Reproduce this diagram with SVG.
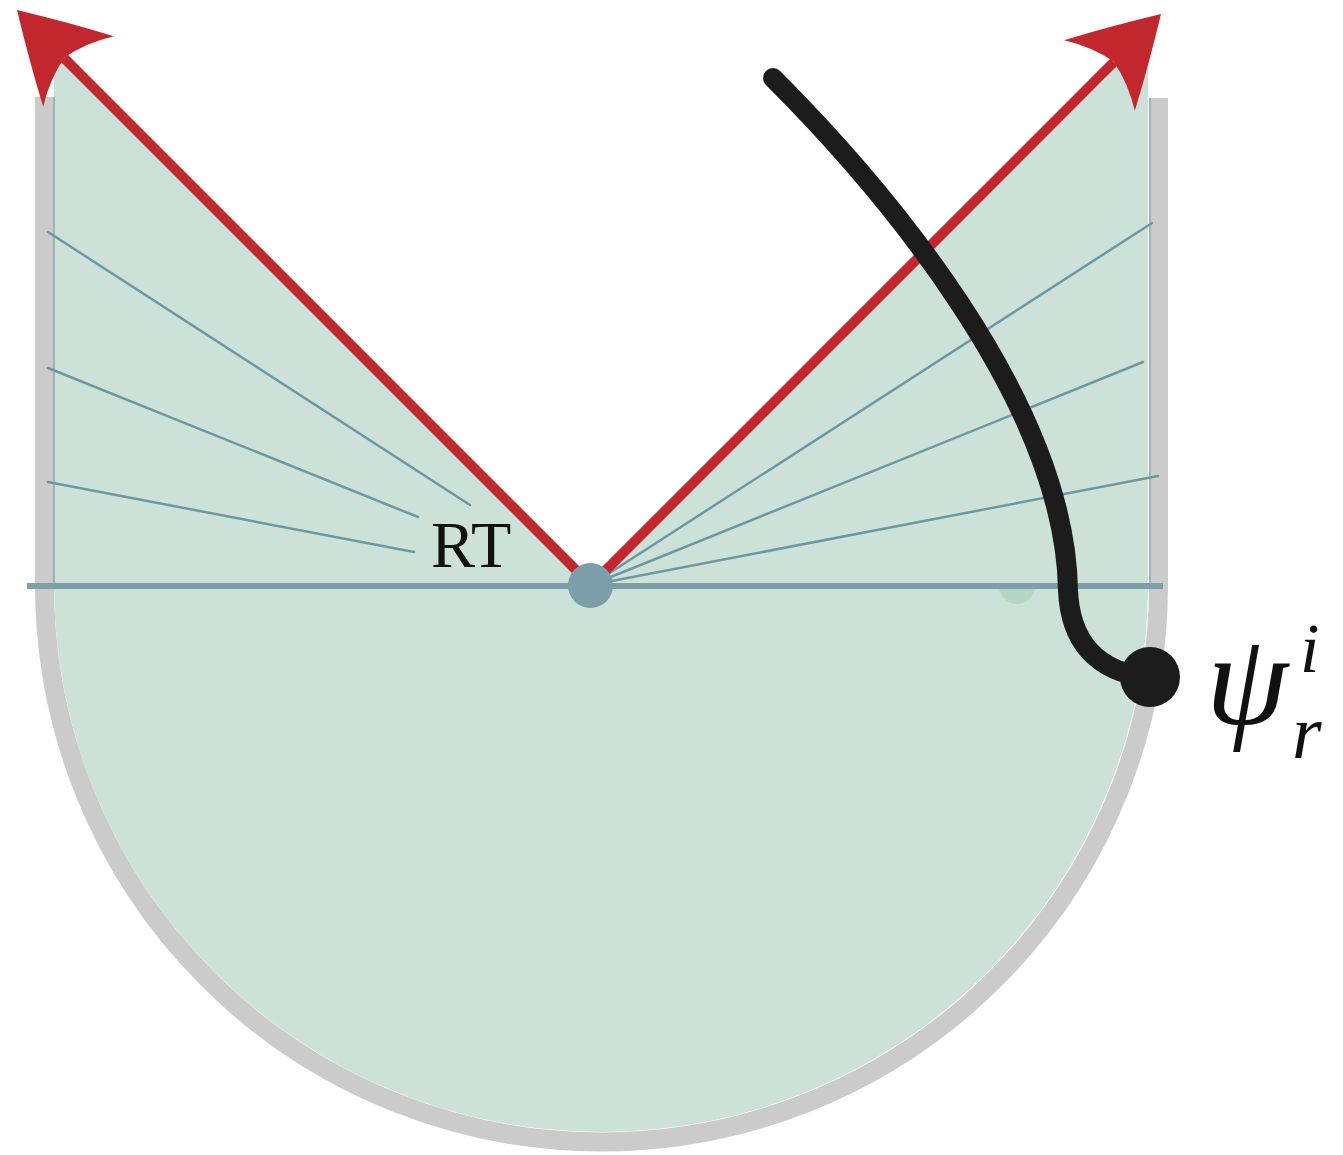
<svg xmlns="http://www.w3.org/2000/svg" width="1343" height="1155" viewBox="0 0 1343 1155">
<style>
.fan{stroke:#6f97a2;stroke-width:2.5;stroke-linecap:round;fill:none}
.red{stroke:#c1272d;stroke-width:10;fill:none}
.head{fill:#c1272d}
.edge{stroke:#9db3b3;stroke-width:2;fill:none}
.lbl{font-family:"Liberation Serif","DejaVu Serif",serif;fill:#111}
</style>
<defs>
<path id="arrowhead" d="M0 0 Q-44 -27 -87 -50 Q-72 -26 -67 0 Q-72 26 -87 50 Q-44 27 0 0 Z"/>
</defs>
<rect width="1343" height="1155" fill="#ffffff"/>
<g id="basin">
<path d="M44.5 97 L44.5 585 A557 557 0 0 0 1158.5 585 L1158.5 98" fill="none" stroke="#cbcbcb" stroke-width="19"/>
<path d="M54 48 L591 585 L1148 37 L1148 585 A547 547 0 0 1 54 585 Z" fill="#cce2d9"/>
<line class="edge" x1="54" y1="97" x2="54" y2="585"/>
<line class="edge" x1="1150" y1="98" x2="1150" y2="585"/>
</g>
<g id="fan">
<line class="fan" x1="48" y1="232" x2="470" y2="505"/>
<line class="fan" x1="48" y1="368" x2="418" y2="517"/>
<line class="fan" x1="48" y1="482" x2="414" y2="552"/>
<line class="fan" x1="1152" y1="223" x2="591" y2="585"/>
<line class="fan" x1="1143" y1="362" x2="591" y2="585"/>
<line class="fan" x1="1158" y1="476" x2="591" y2="585"/>
</g>
<g id="bump">
<path d="M999 586 A18 18 0 0 0 1035 586 Z" fill="#b5d6c4"/>
</g>
<g id="axis">
<line x1="27" y1="586" x2="1163" y2="586" stroke="#7c9fa9" stroke-width="6"/>
</g>
<g id="connectors">
<line class="red" x1="591" y1="585" x2="64" y2="58"/>
<line class="red" x1="591" y1="585" x2="1114" y2="62"/>
<use href="#arrowhead" class="head" transform="translate(17 10) rotate(-135)"/>
<use href="#arrowhead" class="head" transform="translate(1161 14) rotate(-45)"/>
</g>
<g id="origin">
<circle cx="590.5" cy="585.5" r="22.5" fill="#7b9eaa"/>
</g>
<g id="rt-label">
<text class="lbl" x="431" y="567" font-size="66">RT</text>
</g>
<g id="trajectory">
<path d="M773 78 C880 185 1065 400 1068 590 C1070 640 1095 672 1150 678" fill="none" stroke="#1c1c1c" stroke-width="20" stroke-linecap="round"/>
<circle cx="1150" cy="677" r="30" fill="#1c1c1c"/>
</g>
<g id="psi-label">
<text class="lbl" x="1206" y="724" font-size="132" font-style="italic">ψ</text>
<text class="lbl" x="1300" y="672" font-size="70" font-style="italic">i</text>
<text class="lbl" x="1292" y="758" font-size="76" font-style="italic">r</text>
</g>
</svg>
